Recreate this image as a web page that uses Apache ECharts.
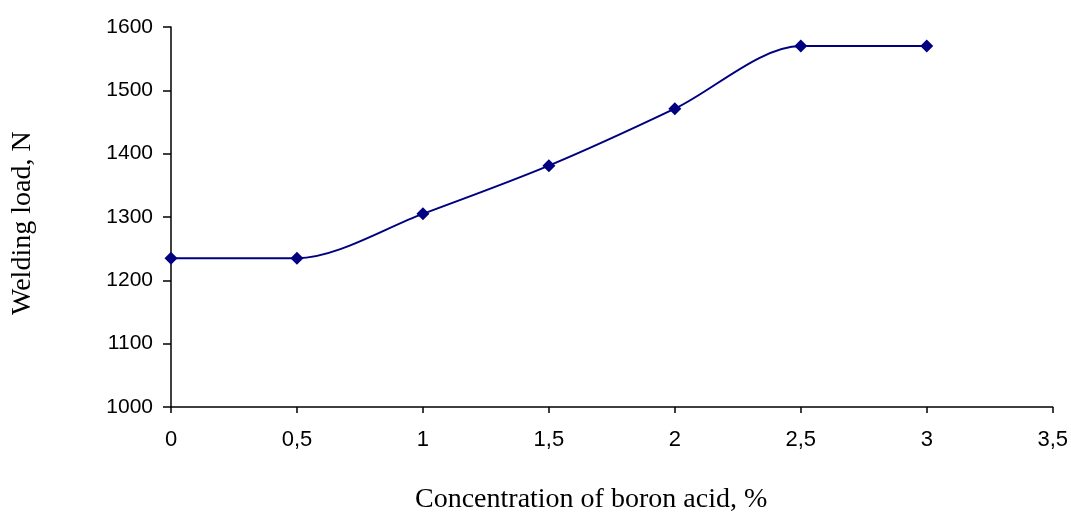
<!DOCTYPE html>
<html>
<head>
<meta charset="utf-8">
<script src="https://cdn.jsdelivr.net/npm/echarts@6/dist/echarts.min.js"></script>
<style>html,body{margin:0;padding:0;background:#fff;}#c{width:1071px;height:513px;}</style>
</head>
<body>
<div id="c"></div>
<script>
const concentration = [0, 0.5, 1, 1.5, 2, 2.5, 3];
const weldingLoad = [1235, 1235, 1305, 1381, 1471, 1570, 1570];
const xTitle = 'Concentration of boron acid, %';
const yTitle = 'Welding load, N';

const chart = echarts.init(document.getElementById('c'));
chart.setOption({
  animation: false,
  backgroundColor: '#fff',
  grid: {left: 171, right: 17, top: 27, bottom: 106},
  xAxis: {
    type: 'value', min: 0, max: 3.5, interval: 0.5,
    axisLine: {show: true, onZero: false, lineStyle: {color: '#000', width: 1.5}},
    axisTick: {show: true, length: 6, lineStyle: {color: '#000', width: 1.5}},
    splitLine: {show: false},
    axisLabel: {color: '#000', fontFamily: 'Liberation Sans', fontSize: 22, margin: 22,
      formatter: v => String(v).replace('.', ',')}
  },
  yAxis: {
    type: 'value', min: 1000, max: 1600, interval: 100,
    axisLine: {show: true, lineStyle: {color: '#000', width: 1.5}},
    axisTick: {show: true, length: 8, lineStyle: {color: '#000', width: 1.5}},
    splitLine: {show: false},
    axisLabel: {color: '#000', fontFamily: 'Liberation Sans', fontSize: 21, margin: 18,
      formatter: v => String(v)}
  },
  graphic: [
    {type: 'text', x: 415, y: 486, style: {text: xTitle, fontFamily: 'Liberation Serif', fontSize: 28, fill: '#000', textVerticalAlign: 'top'}},
    {type: 'text', x: 9, y: 315, rotation: Math.PI / 2, style: {text: yTitle, fontFamily: 'Liberation Serif', fontSize: 28, fill: '#000', textVerticalAlign: 'top'}}
  ],
  series: [{
    type: 'line',
    data: concentration.map((x, i) => [x, weldingLoad[i]]),
    smooth: 0.3,
    symbol: 'diamond',
    symbolSize: 13,
    lineStyle: {color: '#000080', width: 2},
    itemStyle: {color: '#000080'}
  }]
});
</script>
</body>
</html>
